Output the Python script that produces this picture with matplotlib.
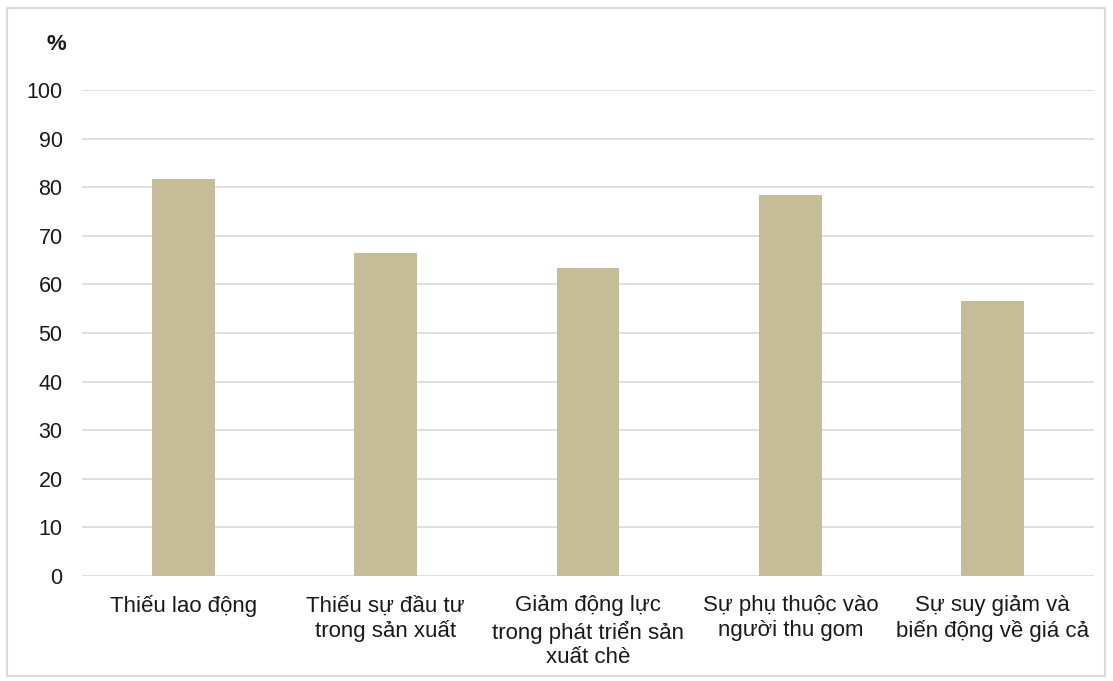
import matplotlib
matplotlib.use("Agg")
import matplotlib.pyplot as plt
from matplotlib.patches import Rectangle

categories = ["Thiếu lao động", "Thiếu sự đầu tư\ntrong sản xuất",
              "Giảm động lực\ntrong phát triển sản\nxuất chè",
              "Sự phụ thuộc vào\nngười thu gom",
              "Sự suy giảm và\nbiến động về giá cả"]
values = [81.6, 66.5, 63.3, 78.4, 56.5]
yticks = [0, 10, 20, 30, 40, 50, 60, 70, 80, 90, 100]

plt.rcParams['font.family'] = ['Liberation Sans', 'DejaVu Sans']

W, H = 1113, 681
fig = plt.figure(figsize=(W / 100, H / 100), dpi=100)
ax = fig.add_axes([82 / W, 1 - 576 / H, (1094 - 82) / W, (576 - 90) / H])

x = list(range(len(categories)))
ax.bar(x, values, width=0.31, color="#C4BD97", zorder=3)
ax.set_xlim(-0.5, len(categories) - 0.5)
ax.set_ylim(0, 100)
ax.set_yticks(yticks)
ax.set_xticks(x)
ax.set_xticklabels(categories, fontsize=16, linespacing=1.23, color="#1a1a1a")
ax.tick_params(axis='y', length=0, pad=14, labelsize=15.5, labelcolor="#1a1a1a")
ax.tick_params(axis='x', length=0, pad=14)
ax.grid(axis='y', color="#D9D9D9", linewidth=1.2, zorder=0)
for s in ax.spines.values():
    s.set_visible(False)

fig.text(56 / W, 1 - 45 / H, "%", fontsize=16, fontweight='bold', ha='center', va='center', color="#1a1a1a")

fig.patches.append(Rectangle((7 / W, 1 - 676 / H), (1105 - 7) / W, (676 - 8) / H,
                             transform=fig.transFigure, fill=False,
                             edgecolor="#D9D9D9", linewidth=1.5))

fig.savefig("out.png", dpi=100)
